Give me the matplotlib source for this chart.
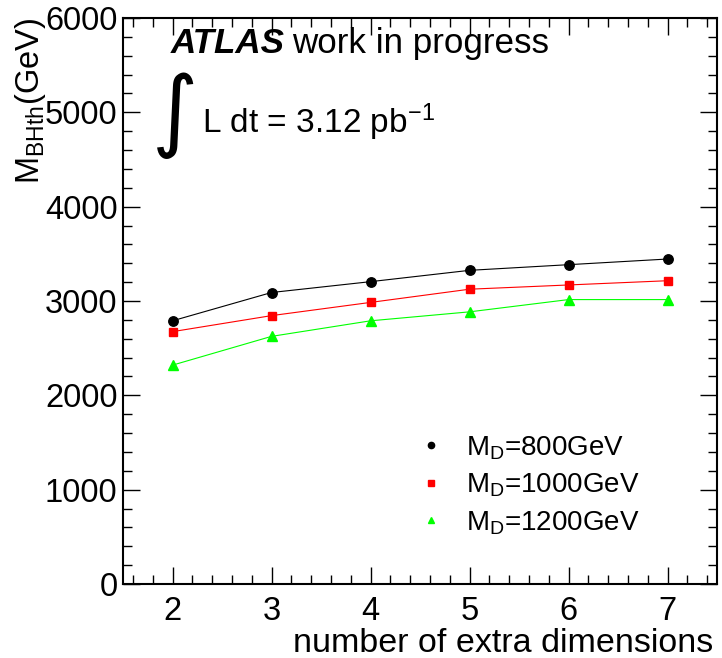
import matplotlib
matplotlib.use("Agg")
import matplotlib.pyplot as plt
from matplotlib.lines import Line2D

plt.rcParams['font.family'] = ['Liberation Sans', 'DejaVu Sans']
plt.rcParams['mathtext.fontset'] = 'custom'
plt.rcParams['mathtext.rm'] = 'Liberation Sans'
plt.rcParams['mathtext.it'] = 'Liberation Sans:italic'
plt.rcParams['mathtext.bf'] = 'Liberation Sans:bold'

# data
n_dims = [2, 3, 4, 5, 6, 7]
mbh_800 = [2790, 3090, 3205, 3325, 3385, 3445]
mbh_1000 = [2675, 2845, 2985, 3125, 3170, 3215]
mbh_1200 = [2320, 2625, 2790, 2885, 3015, 3015]
labels = ["M$_{\\mathregular{D}}$=800GeV", "M$_{\\mathregular{D}}$=1000GeV", "M$_{\\mathregular{D}}$=1200GeV"]
colors = ['black', '#ff0000', '#00ff00']
markers = ['o', 's', '^']

W, H = 722, 658
fig = plt.figure(figsize=(W / 100, H / 100), dpi=100)
ax = fig.add_axes([123 / W, 1 - 584 / H, (717 - 123) / W, (584 - 18) / H])

msizes = [6.8, 6.2, 7.2]
for y, c, m, ms in zip([mbh_800, mbh_1000, mbh_1200], colors, markers, msizes):
    ax.plot(n_dims, y, color=c, lw=0.8, marker=m, ms=ms, mec=c, mfc=c)

ax.set_xlim(1.5, 7.5)
ax.set_ylim(0, 6000)
ax.set_xticks(n_dims)
ax.set_yticks(range(0, 6001, 1000))
ax.set_xticks([1.6 + 0.2 * i for i in range(30)], minor=True)
ax.set_yticks(range(0, 6001, 200), minor=True)
ax.tick_params(which='both', direction='in', top=True, right=True, width=1)
ax.tick_params(which='major', length=12.5, labelsize=23.5)
ax.tick_params(which='minor', length=6.5)
ax.tick_params(axis='x', pad=9)
ax.tick_params(axis='y', pad=4)
for s in ax.spines.values():
    s.set_linewidth(1.5)

# axis titles (ROOT style: aligned to the end of the axis)
fig.text(713 / W, 1 - 652 / H, "number of extra dimensions", fontsize=24.5,
         ha='right', va='baseline')
fig.text(31 / W, 1 - 18 / H, "M$_{\\mathregular{BHth}}$(GeV)", rotation=90,
         ha='center', va='top', fontsize=23.5)

# ATLAS label
fig.text(171 / W, 1 - 53 / H, "ATLAS", fontsize=25.2, weight='bold', style='italic', va='baseline')
fig.text(292 / W, 1 - 53 / H, "work in progress", fontsize=25.2, va='baseline')
fig.text(175 / W, 1 - 117 / H, "\u222b", fontsize=64, ha='center', va='center',
         family=['Noto Sans', 'DejaVu Sans'])
fig.text(202 / W, 1 - 133 / H, "L dt = 3.12 pb$^{\\mathregular{-1}}$", fontsize=24, va='baseline')

handles = [Line2D([], [], ls='none', marker=m, color=c, ms=ms)
           for m, c, ms in zip(markers, colors, [4.5, 4.5, 5])]
ax.legend(handles, labels, loc='upper left', bbox_to_anchor=(0.5, 0.265), frameon=False,
          fontsize=20, handlelength=0.8, handletextpad=0.85, labelspacing=0.36, borderpad=0,
          borderaxespad=0)

fig.savefig("out.png", dpi=100)
